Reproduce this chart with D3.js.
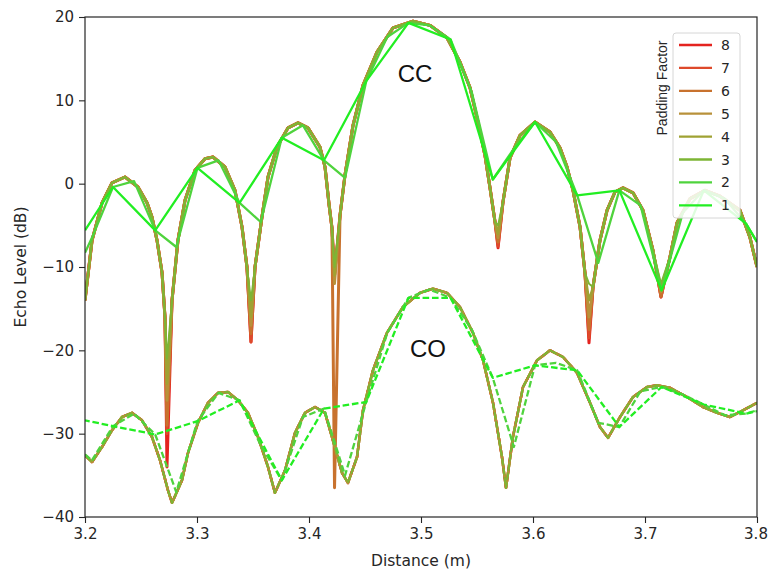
<!DOCTYPE html>
<html><head><meta charset="utf-8">
<script src="https://cdn.jsdelivr.net/npm/d3@7"></script>
<style>body{margin:0;background:#fff}svg{display:block}</style>
</head><body>
<script>
// ---------- data ----------
const paddings = [8, 7, 6, 5, 4, 3, 2, 1];
const padColors = ["#e4231f", "#de4a2b", "#c8722e", "#b8913a", "#9fa233", "#7db535", "#4fd33d", "#22ee22"];
const xTicks = [3.2, 3.3, 3.4, 3.5, 3.6, 3.7, 3.8];
const yTicks = [-40, -30, -20, -10, 0, 10, 20];

// CC (solid) – finely padded curve [distance m, dB]
const ccFine = [[3.2000,-14],[3.2063,-6.8],[3.2152,-2.3],[3.2241,0.1],[3.2357,0.8],[3.2473,-0.4],[3.2554,-2.3],[3.2598,-4],[3.2643,-6.8],[3.2688,-10.7],[3.2714,-16],[3.2732,-21],[3.2777,-14],[3.2830,-6.8],[3.2893,-2],[3.2982,1.6],[3.3071,3.0],[3.3143,3.2],[3.3250,2.0],[3.3339,-0.8],[3.3402,-5.2],[3.3446,-10],[3.3482,-19],[3.3518,-10],[3.3580,-4],[3.3634,0.8],[3.3714,4.4],[3.3813,6.7],[3.3902,7.3],[3.3991,6.7],[3.4098,4.4],[3.4143,2.0],[3.4179,-2.5],[3.4205,-5.3],[3.4228,-10],[3.4277,-3.8],[3.4321,1],[3.4393,7],[3.4482,11.8],[3.4607,15.8],[3.4750,18.7],[3.4929,19.5],[3.5080,19],[3.5232,17.5],[3.5348,14.6],[3.5438,11.5],[3.5509,7.4],[3.5571,3.4],[3.5616,-0.5],[3.5661,-4.6],[3.5688,-7.7],[3.5732,-2.2],[3.5795,3.1],[3.5884,5.8],[3.6018,7.4],[3.6152,6.2],[3.6241,4.3],[3.6304,2.0],[3.6357,-0.8],[3.6420,-5.2],[3.6464,-10.7],[3.6500,-19.1],[3.6536,-12.4],[3.6598,-6.8],[3.6661,-3.2],[3.6732,-1],[3.6804,-0.5],[3.6893,-1.1],[3.6982,-3.2],[3.7071,-8],[3.7143,-13.6],[3.7223,-8.8],[3.7286,-4.7],[3.7402,-1.8],[3.7536,-0.8],[3.7670,-1.5],[3.7848,-3.2],[3.7938,-6.5],[3.8000,-10]];
// null positions of the CC curve and the depth each padding reaches there
const ccNullX = [3.2732, 3.3482, 3.4228, 3.5688, 3.6500, 3.7143];
const ccNull8 = [-34, -19, -11, -7.7, -19.1, -13.6];
const ccNull7 = [-30, -19, -11, -7.5, -18.5, -13.6];
const ccNull6 = [-29, -18, -36.5, -7, -17.5, -13.5];
const ccNull5 = [-26, -17, -12, -6.5, -16, -13];
const ccNull4 = [-24, -16, -11, -6, -14, -12.5];
const ccNull3 = [-21, -14, -10, -5, -12, -12];
// coarse paddings (padding 1: coarse bins, padding 2: half-bin samples)
const ccPad1 = [[3.2,-5.6],[3.2250,-0.4],[3.2627,-5.6],[3.3004,1.9],[3.3380,-2.3],[3.3757,5.5],[3.4134,2.8],[3.4511,12.3],[3.4888,19.3],[3.5264,17.3],[3.5641,0.5],[3.6018,7.4],[3.6395,-1.4],[3.6771,-0.8],[3.7148,-12.8],[3.7525,-0.8],[3.7902,-4.8],[3.8,-7]];
const ccPad2 = [[3.2,-8.3],[3.2062,-6.5],[3.2250,-0.4],[3.2438,0.3],[3.2627,-5.6],[3.2815,-7.6],[3.3004,1.9],[3.3192,2.8],[3.3380,-2.3],[3.3569,-4.6],[3.3757,5.5],[3.3946,7.0],[3.4134,2.8],[3.4322,0.7],[3.4511,12.3],[3.4699,17.6],[3.4888,19.3],[3.5076,19.0],[3.5264,17.3],[3.5453,11.0],[3.5641,0.5],[3.5829,4.2],[3.6018,7.4],[3.6206,5.0],[3.6395,-1.4],[3.6583,-9.5],[3.6771,-0.8],[3.6960,-2.6],[3.7148,-12.8],[3.7337,-3.5],[3.7525,-0.8],[3.7713,-1.8],[3.7902,-4.8],[3.8,-7]];

// CO (dashed)
const coFine = [[3.2000,-32.6],[3.2063,-33.4],[3.2152,-31.6],[3.2241,-29.6],[3.2330,-28],[3.2420,-27.5],[3.2509,-28.4],[3.2598,-30.4],[3.2670,-33.2],[3.2741,-36.8],[3.2777,-38.3],[3.2866,-35.6],[3.2920,-32.3],[3.3009,-28.7],[3.3098,-26.3],[3.3188,-25.1],[3.3277,-25],[3.3366,-26],[3.3455,-27.5],[3.3545,-30.4],[3.3634,-34],[3.3696,-37.1],[3.3786,-34.4],[3.3875,-29.9],[3.3964,-27.5],[3.4054,-26.8],[3.4143,-27.5],[3.4205,-30.4],[3.4295,-34.7],[3.4348,-35.9],[3.4429,-32.8],[3.4482,-27.2],[3.4571,-22.4],[3.4696,-17.9],[3.4839,-14.8],[3.4991,-13.1],[3.5107,-12.6],[3.5232,-13.1],[3.5348,-14.8],[3.5464,-17.9],[3.5554,-21.2],[3.5643,-26.3],[3.5723,-32.8],[3.5759,-36.5],[3.5821,-30.4],[3.5911,-24.4],[3.6036,-21.2],[3.6152,-20],[3.6268,-20.8],[3.6393,-22.7],[3.6509,-26.3],[3.6598,-29.2],[3.6670,-30.5],[3.6777,-28],[3.6893,-25.6],[3.7018,-24.4],[3.7107,-24.2],[3.7223,-24.5],[3.7375,-25.6],[3.7518,-26.8],[3.7643,-27.5],[3.7759,-28],[3.7875,-27.2],[3.8000,-26.3]];
const coPad1 = [[3.2,-28.4],[3.2250,-29.1],[3.2627,-30.1],[3.3004,-28.5],[3.3380,-26],[3.3757,-35.6],[3.4134,-27],[3.4511,-26.2],[3.4888,-13.7],[3.5264,-13.7],[3.5641,-23.3],[3.6018,-21.8],[3.6395,-22.4],[3.6771,-29.2],[3.7148,-24.4],[3.7525,-26.5],[3.7902,-27.6],[3.8,-27.3]];
const coPad2 = [[3.2,-32.5],[3.2062,-33.2],[3.2250,-29.1],[3.2438,-27.6],[3.2627,-30.1],[3.2815,-37.0],[3.3004,-28.5],[3.3192,-25.1],[3.3380,-26],[3.3569,-31.4],[3.3757,-35.6],[3.3946,-28],[3.4134,-27],[3.4322,-35.0],[3.4511,-26.2],[3.4699,-17.9],[3.4888,-13.7],[3.5076,-12.7],[3.5264,-13.7],[3.5453,-17.5],[3.5641,-23.3],[3.5829,-31.6],[3.6018,-21.8],[3.6206,-21.5],[3.6395,-22.4],[3.6583,-28.7],[3.6771,-29.2],[3.6960,-24.9],[3.7148,-24.4],[3.7337,-25.3],[3.7525,-26.5],[3.7713,-27.8],[3.7902,-27.6],[3.8,-27.2]];

const ccNulls = {8: ccNull8, 7: ccNull7, 6: ccNull6, 5: ccNull5, 4: ccNull4, 3: ccNull3};
const padWidths = [3.0, 3.0, 3.0, 2.8, 2.5, 1.9, 2.3, 2.3];

// ---------- drawing ----------
const W = 768, H = 571;
const L = 85, R = 757, T = 17, B = 517;
const svg = d3.select("body").append("svg").attr("width", W).attr("height", H)
  .style("font-family", "'DejaVu Sans', sans-serif");
svg.append("rect").attr("width", W).attr("height", H).attr("fill", "#fff");

const x = d3.scaleLinear().domain([3.2, 3.8]).range([L, R]);
const y = d3.scaleLinear().domain([-40, 20]).range([B, T]);

svg.append("clipPath").attr("id", "clip").append("rect")
  .attr("x", L).attr("y", T).attr("width", R - L).attr("height", B - T);

const line = d3.line().x(d => x(d[0])).y(d => y(d[1]));
const g = svg.append("g").attr("clip-path", "url(#clip)");

function ccSeries(p) {
  const depth = ccNulls[p];
  return ccFine.map(d => {
    const k = ccNullX.indexOf(d[0]);
    return k >= 0 ? [d[0], depth[k]] : d;
  });
}

paddings.forEach((p, i) => {
  const col = padColors[i];
  const cc = p === 1 ? ccPad1 : p === 2 ? ccPad2 : ccSeries(p);
  const co = p === 1 ? coPad1 : p === 2 ? coPad2 : coFine;
  g.append("path").attr("d", line(cc)).attr("fill", "none")
    .attr("stroke", col).attr("stroke-width", padWidths[i]).attr("stroke-linejoin", "round");
  g.append("path").attr("d", line(co)).attr("fill", "none")
    .attr("stroke", col).attr("stroke-width", Math.min(padWidths[i], 2.5))
    .attr("stroke-dasharray", "6.6,2.8").attr("stroke-dashoffset", i * 1.6)
    .attr("stroke-linejoin", "round");
});

// frame
svg.append("rect").attr("x", L).attr("y", T).attr("width", R - L).attr("height", B - T)
  .attr("fill", "none").attr("stroke", "#262626").attr("stroke-width", 1.2);

// axes
const xAxis = svg.append("g").attr("transform", `translate(0,${B})`)
  .call(d3.axisBottom(x).tickValues(xTicks).tickFormat(d3.format(".1f")).tickSizeInner(6).tickSizeOuter(0).tickPadding(5));
const yAxis = svg.append("g").attr("transform", `translate(${L},0)`)
  .call(d3.axisLeft(y).tickValues(yTicks).tickFormat(d => d < 0 ? "\u2212" + Math.abs(d) : String(d)).tickSizeInner(6).tickSizeOuter(0).tickPadding(5));
[xAxis, yAxis].forEach(a => {
  a.select(".domain").remove();
  a.selectAll(".tick line").attr("stroke", "#262626").attr("stroke-width", 1.1);
  a.selectAll(".tick text").attr("fill", "#262626").style("font-size", "15px")
    .style("font-family", "'DejaVu Sans', sans-serif");
});
xAxis.selectAll(".tick:last-of-type text").attr("dx", "-1.5");

svg.append("text").attr("x", (L + R) / 2).attr("y", 566).attr("text-anchor", "middle")
  .style("font-size", "15.5px").attr("fill", "#262626").text("Distance (m)");
svg.append("text").attr("transform", `translate(26,${(T + B) / 2}) rotate(-90)`).attr("text-anchor", "middle")
  .style("font-size", "15.5px").attr("fill", "#262626").text("Echo Level (dB)");

// annotations
svg.append("text").attr("x", 415).attr("y", 82).attr("text-anchor", "middle")
  .style("font-family", "'Liberation Sans', Arial, sans-serif").style("font-size", "24px").attr("fill", "#111").text("CC");
svg.append("text").attr("x", 428).attr("y", 357).attr("text-anchor", "middle")
  .style("font-family", "'Liberation Sans', Arial, sans-serif").style("font-size", "24px").attr("fill", "#111").text("CO");

// legend
const lg = svg.append("g");
lg.append("rect").attr("x", 673).attr("y", 33).attr("width", 67).attr("height", 185).attr("rx", 3)
  .attr("fill", "#fff").attr("fill-opacity", 0.85).attr("stroke", "#d6d6d6").attr("stroke-width", 1);
lg.append("text").attr("transform", "translate(667,88) rotate(-90)").attr("text-anchor", "middle")
  .style("font-family", "'Liberation Sans', Arial, sans-serif").style("font-size", "14px").attr("fill", "#262626")
  .text("Padding Factor");
paddings.forEach((p, i) => {
  const yy = 45 + i * 22.9;
  lg.append("line").attr("x1", 679).attr("x2", 712).attr("y1", yy).attr("y2", yy)
    .attr("stroke", padColors[i]).attr("stroke-width", 2.3);
  lg.append("text").attr("x", 721).attr("y", yy + 5).style("font-size", "14px").attr("fill", "#262626").text(p);
});
</script>
</body></html>
